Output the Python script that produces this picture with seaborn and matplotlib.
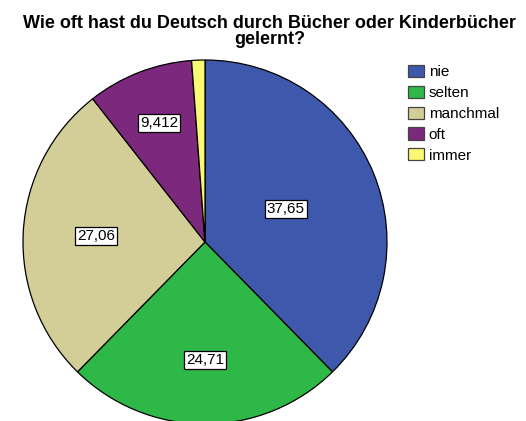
import matplotlib
matplotlib.use("Agg")
import matplotlib.pyplot as plt
import seaborn as sns
import numpy as np
from matplotlib.patches import Patch

sns.set_theme(style="white")
plt.rcParams['font.family'] = ['Liberation Sans', 'DejaVu Sans']
plt.rcParams['text.color'] = 'black'

categories = ["nie", "selten", "manchmal", "oft", "immer"]
values = [37.65, 24.71, 27.06, 9.412, 1.176]
value_labels = ["37,65", "24,71", "27,06", "9,412", ""]
colors = ["#3e58ac", "#2eb848", "#d3ce97", "#7c287d", "#fbf873"]
title = "Wie oft hast du Deutsch durch Bücher oder Kinderbücher\ngelernt?"

label_radii = [0.48, 0.65, 0.60, 0.70, 0.7]

W, H = 526, 421
fig = plt.figure(figsize=(W / 100, H / 100), dpi=100)
fig.patch.set_facecolor("white")
cx, cy, r = 205, 242, 182
ax = fig.add_axes([(cx - r) / W, (H - cy - r) / H, 2 * r / W, 2 * r / H])
wedges, _ = ax.pie(values, colors=colors, startangle=90, counterclock=False,
                   radius=1.0, wedgeprops=dict(edgecolor="black", linewidth=0.9))
ax.set_xlim(-1, 1)
ax.set_ylim(-1, 1)
ax.set_aspect("equal")
ax.axis("off")

for w, lab, rr in zip(wedges, value_labels, label_radii):
    if not lab:
        continue
    ang = np.deg2rad((w.theta1 + w.theta2) / 2)
    ax.text(rr * np.cos(ang), rr * np.sin(ang), lab, ha="center", va="center",
            fontsize=11, color="black",
            bbox=dict(boxstyle="square,pad=0.12", facecolor="white",
                      edgecolor="black", linewidth=0.9))

fig.text(0.5 * (17 + 522) / W, 1 - 15 / H, title, ha="center", va="top",
         fontsize=13, fontweight="bold", linespacing=0.9, color="black")

handles = [Patch(facecolor=c, edgecolor="#444444", linewidth=0.9) for c in colors]
leg = fig.legend(handles, categories, loc="upper left",
                 bbox_to_anchor=(408 / W, 1 - 65 / H), frameon=False,
                 fontsize=11, handlelength=1.05, handleheight=0.85,
                 handletextpad=0.3, labelspacing=0.42, borderaxespad=0,
                 borderpad=0)
for t in leg.get_texts():
    t.set_color("black")

fig.savefig("out.png", dpi=100, facecolor="white")
